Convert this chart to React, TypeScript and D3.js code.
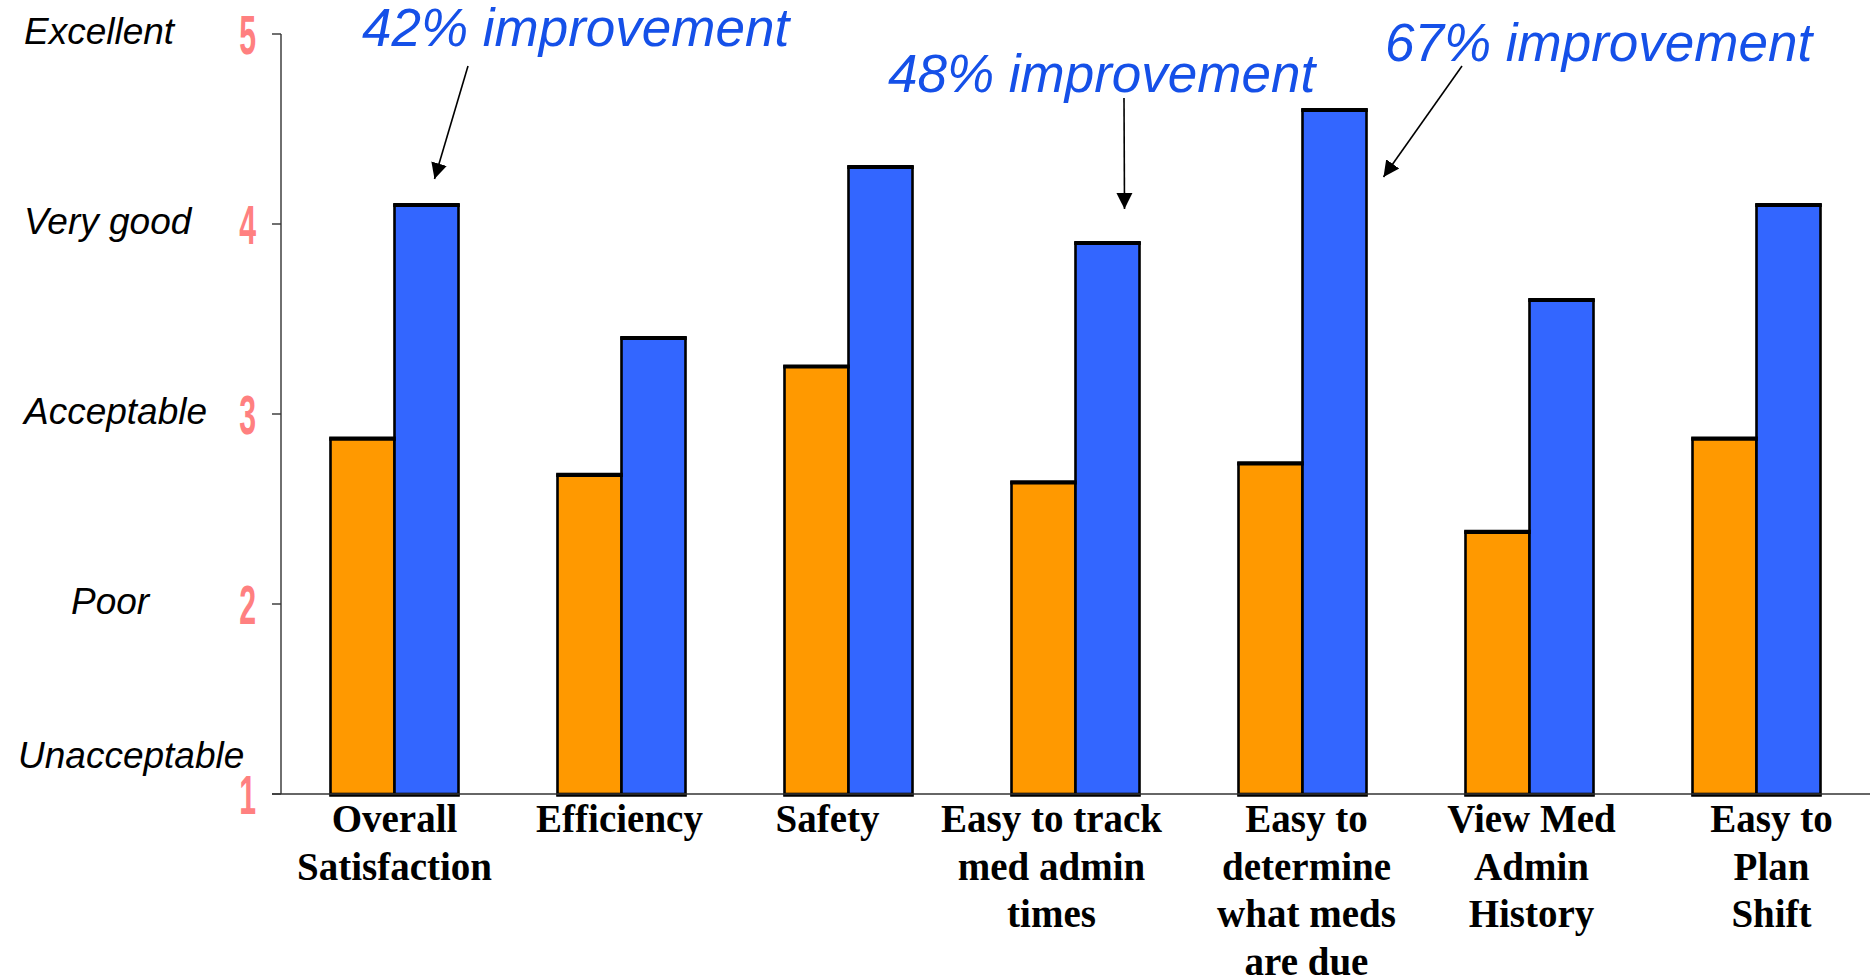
import React from "react";
import * as d3 from "d3";

// Survey categories and mean ratings (1 = Unacceptable … 5 = Excellent)
const categories = [
  "Overall Satisfaction",
  "Efficiency",
  "Safety",
  "Easy to track med admin times",
  "Easy to determine what meds are due",
  "View Med Admin History",
  "Easy to Plan Shift",
];
const categoryLines = [
  ["Overall", "Satisfaction"],
  ["Efficiency"],
  ["Safety"],
  ["Easy to track", "med admin", "times"],
  ["Easy to", "determine", "what meds", "are due"],
  ["View Med", "Admin", "History"],
  ["Easy to", "Plan", "Shift"],
];
const beforeScores = [2.87, 2.68, 3.25, 2.64, 2.74, 2.38, 2.87];
const afterScores = [4.1, 3.4, 4.3, 3.9, 4.6, 3.6, 4.1];

const ratingTicks = [1, 2, 3, 4, 5];
const ratingLabels = ["Unacceptable", "Poor", "Acceptable", "Very good", "Excellent"];

const annotations = [
  { category: "Overall Satisfaction", text: "42% improvement" },
  { category: "Easy to track med admin times", text: "48% improvement" },
  { category: "Easy to determine what meds are due", text: "67% improvement" },
];

const W = 1875;
const H = 979;
const left = 281;
const right = 1870;
const top = 34;
const bottom = 794;
const barW = 64;

// layout nudges for the wrapped category captions
const captionShift = [0, -2, -21, -24, 4, 2, 15];
// annotation layout: text anchor, arrow tail, arrow tip offset from the "after" bar's centre/top
const annoLayout = [
  { tx: 362, ty: 46, tail: [468, 66], tip: { dx: 40, dy: -26 } },
  { tx: 888, ty: 92, tail: [1124, 98], tip: { dx: 49, dy: -34 } },
  { tx: 1385, ty: 61, tail: [1462, 66], tip: { dx: 81, dy: 67 } },
];

export default function App() {
  const x = d3.scaleBand<string>().domain(categories).range([left, right]).padding(0);
  const y = d3.scaleLinear().domain([1, 5]).range([bottom, top]);

  const orange = "#FF9900";
  const blue = "#3366FF";
  const annoColor = "#1550E8";

  return (
    <svg
      width={W}
      height={H}
      style={{ position: "absolute", left: 0, top: 0, background: "#fff" }}
    >
      <defs>
        <marker
          id="arrowHead"
          viewBox="0 0 10 10"
          refX="10"
          refY="5"
          markerWidth="16"
          markerHeight="20"
          markerUnits="userSpaceOnUse"
          orient="auto"
        >
          <path d="M0,0 L10,5 L0,10 z" fill="#000" />
        </marker>
      </defs>

      {/* bars */}
      {categories.map((c, i) => {
        const cx = (x(c) as number) + x.bandwidth() / 2;
        const yb = y(beforeScores[i]);
        const ya = y(afterScores[i]);
        return (
          <g key={c}>
            <rect
              x={cx - barW}
              y={yb}
              width={barW}
              height={bottom - yb}
              fill={orange}
              stroke="#000"
              strokeWidth={2.6}
            />
            <rect
              x={cx}
              y={ya}
              width={barW}
              height={bottom - ya}
              fill={blue}
              stroke="#000"
              strokeWidth={2.6}
            />
            <line x1={cx - barW - 1.3} x2={cx + 1.3} y1={yb} y2={yb} stroke="#000" strokeWidth={4.2} />
            <line x1={cx - 1.3} x2={cx + barW + 1.3} y1={ya} y2={ya} stroke="#000" strokeWidth={4.2} />
            <line x1={cx - barW - 1.3} x2={cx + barW + 1.3} y1={bottom + 1} y2={bottom + 1} stroke="#000" strokeWidth={3.4} />
          </g>
        );
      })}

      {/* axes */}
      <line x1={left} x2={left} y1={top} y2={bottom} stroke="#333" strokeWidth={1.4} />
      <line x1={left - 9} x2={right} y1={bottom} y2={bottom} stroke="#333" strokeWidth={1.4} />
      {ratingTicks.map((t) => (
        <line key={t} x1={left - 9} x2={left} y1={y(t)} y2={y(t)} stroke="#333" strokeWidth={1.4} />
      ))}

      {/* numeric tick labels */}
      {ratingTicks.map((t) => (
        <text
          key={"n" + t}
          transform={`translate(256,${y(t) + 20}) scale(0.55,1)`}
          textAnchor="end"
          fontFamily="'Liberation Sans', Arial, sans-serif"
          fontWeight="bold"
          fontSize={55}
          fill="#FF8080"
        >
          {t}
        </text>
      ))}

      {/* verbal rating labels */}
      {ratingTicks.map((t, i) => (
        <text
          key={"r" + t}
          x={i === 0 ? 18 : i === 1 ? 71 : 24}
          y={i === 0 ? y(t) - 26 : y(t) + 10}
          fontFamily="'Liberation Sans', Arial, sans-serif"
          fontStyle="italic"
          fontSize={37}
          fill="#000"
        >
          {ratingLabels[i]}
        </text>
      ))}

      {/* category captions */}
      {categories.map((c, i) => {
        const cx = (x(c) as number) + x.bandwidth() / 2 + captionShift[i];
        return (
          <text
            key={"c" + c}
            x={cx}
            y={832}
            textAnchor="middle"
            fontFamily="'Liberation Serif', 'Times New Roman', serif"
            fontWeight="bold"
            fontSize={39}
            fill="#000"
          >
            {categoryLines[i].map((ln, k) => (
              <tspan key={k} x={cx} dy={k === 0 ? 0 : 47.5}>
                {ln}
              </tspan>
            ))}
          </text>
        );
      })}

      {/* improvement callouts */}
      {annotations.map((a, i) => {
        const L = annoLayout[i];
        const bx = x(a.category) as number;
        const cx = bx + x.bandwidth() / 2;
        const ya = y(afterScores[categories.indexOf(a.category)]);
        const tipX = cx + L.tip.dx;
        const tipY = ya + L.tip.dy;
        return (
          <g key={"a" + i}>
            <text
              x={L.tx}
              y={L.ty}
              fontFamily="'Liberation Sans', Arial, sans-serif"
              fontStyle="italic"
              fontSize={53}
              fill={annoColor}
            >
              {a.text}
            </text>
            <line
              x1={L.tail[0]}
              y1={L.tail[1]}
              x2={tipX}
              y2={tipY}
              stroke="#000"
              strokeWidth={1.6}
              markerEnd="url(#arrowHead)"
            />
          </g>
        );
      })}
    </svg>
  );
}
